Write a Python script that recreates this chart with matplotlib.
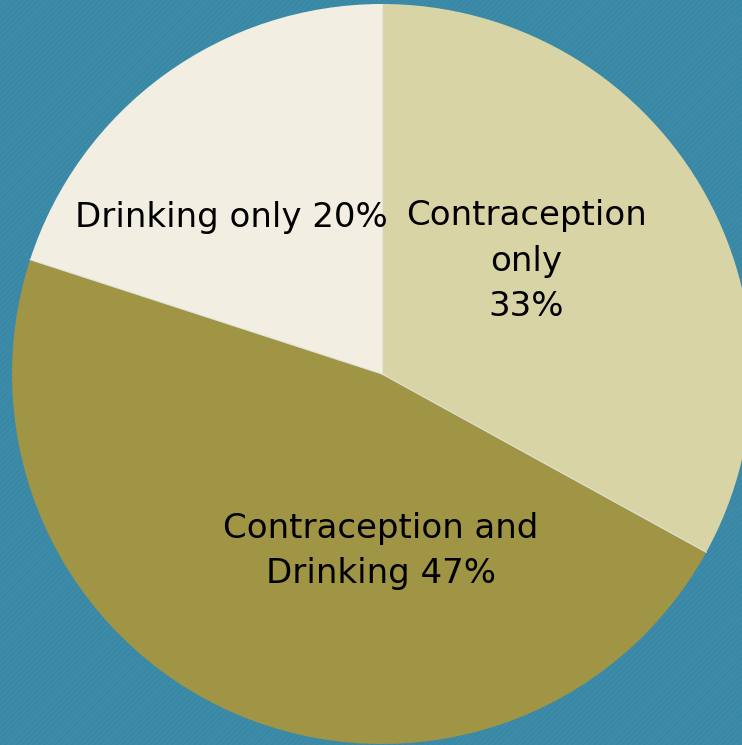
import numpy as np
import matplotlib.pyplot as plt
from matplotlib.patches import Rectangle

labels = ["Contraception\nonly\n33%", "Contraception and\nDrinking 47%", "Drinking only 20%"]
shares = [33, 47, 20]
colors = ["#D9D4A6", "#A09445", "#F2EFE2"]
# label anchor points (pixels, from top-left of the image)
label_xy = [(526, 261), (381, 551), (231, 218)]

W, H = 742, 745
cx, cy, r = 382, H - 374, 370

fig = plt.figure(figsize=(W / 100, H / 100), dpi=100)
fig.patch.set_facecolor("#3C8BA8")
ax = fig.add_axes([0, 0, 1, 1])

# striped backdrop
plt.rcParams["hatch.linewidth"] = 0.8
bg = Rectangle((0, 0), W, H, facecolor="#3C8BA8", edgecolor="#3886A2",
               hatch="//////", linewidth=0, zorder=0)
ax.add_patch(bg)

wedges, _ = ax.pie(shares, colors=colors, startangle=90, counterclock=False,
                   center=(cx, cy), radius=r, frame=True,
                   wedgeprops=dict(linewidth=0, zorder=2))

# thin light dividers between slices
for w in wedges:
    a = np.deg2rad(w.theta1)
    ax.plot([cx, cx + r * np.cos(a)], [cy, cy + r * np.sin(a)],
            color="#E4E4DA", lw=0.8, zorder=2.5)

ax.set_xlim(0, W)
ax.set_ylim(0, H)
ax.set_aspect("equal")
ax.axis("off")

for txt, (x, y) in zip(labels, label_xy):
    ax.text(x, H - y, txt, ha="center", va="center", fontsize=24.5,
            color="black", linespacing=1.48, zorder=3)

fig.savefig("out.png", dpi=100, facecolor=fig.get_facecolor())
